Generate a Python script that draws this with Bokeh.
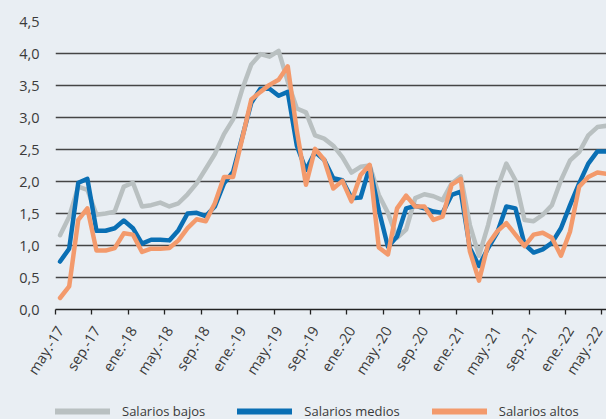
import math
from bokeh.plotting import figure
from bokeh.layouts import column
from bokeh.models import (Range1d, FixedTicker, CustomJSTickFormatter, Legend, LegendItem,
                          ColumnDataSource)
from bokeh.embed import file_html
from bokeh.resources import INLINE

# ---- data (monthly, may-17 .. may-22) ----
tick_labels = ["may.-17", "sep.-17", "ene.-18", "may.-18", "sep.-18", "ene.-19", "may.-19",
               "sep.-19", "ene.-20", "may.-20", "sep.-20", "ene.-21", "may.-21", "sep.-21",
               "ene.-22", "may.-22"]

salarios_bajos = [1.16, 1.45, 1.92, 1.87, 1.48, 1.50, 1.53, 1.92, 1.98, 1.61,
                  1.63, 1.67, 1.61, 1.66, 1.80, 1.97, 2.20, 2.43, 2.74, 2.97,
                  3.44, 3.83, 3.99, 3.95, 4.04, 3.56, 3.14, 3.08, 2.72, 2.67,
                  2.56, 2.38, 2.14, 2.23, 2.25, 1.79, 1.51, 1.12, 1.25, 1.74,
                  1.80, 1.77, 1.71, 1.97, 2.08, 1.32, 0.84, 1.32, 1.89, 2.28,
                  2.02, 1.40, 1.38, 1.48, 1.63, 2.02, 2.33, 2.46, 2.72, 2.85, 2.87]

salarios_medios = [0.75, 0.95, 1.98, 2.04, 1.23, 1.23, 1.27, 1.39, 1.27, 1.03,
                   1.09, 1.09, 1.08, 1.24, 1.50, 1.51, 1.46, 1.61, 1.97, 2.15,
                   2.69, 3.23, 3.45, 3.45, 3.34, 3.40, 2.56, 2.18, 2.46, 2.34,
                   2.05, 2.02, 1.74, 1.75, 2.23, 1.55, 0.98, 1.14, 1.58, 1.62,
                   1.58, 1.53, 1.51, 1.79, 1.84, 0.96, 0.68, 0.96, 1.20, 1.61,
                   1.58, 1.02, 0.89, 0.94, 1.04, 1.27, 1.63, 1.97, 2.28, 2.47, 2.47]

salarios_altos = [0.18, 0.36, 1.40, 1.58, 0.92, 0.92, 0.96, 1.19, 1.17, 0.90,
                  0.95, 0.95, 0.96, 1.08, 1.27, 1.41, 1.38, 1.66, 2.07, 2.07,
                  2.67, 3.28, 3.40, 3.51, 3.59, 3.80, 2.79, 1.95, 2.51, 2.34,
                  1.89, 2.01, 1.69, 2.10, 2.26, 0.97, 0.86, 1.58, 1.78, 1.61,
                  1.61, 1.40, 1.45, 1.95, 2.04, 0.91, 0.45, 1.02, 1.22, 1.35,
                  1.17, 0.99, 1.17, 1.20, 1.12, 0.84, 1.22, 1.92, 2.07, 2.14, 2.12]

series_names = ["Salarios bajos", "Salarios medios", "Salarios altos"]
series_colors = ["#b9c0c1", "#0a6fb4", "#f39a6c"]

n = len(salarios_bajos)
x = [i + 0.5 for i in range(n)]

BG = "#e9eef3"
TXT = "#3a3a3a"
FONT = "Open Sans"

p = figure(width=606, height=386, output_backend="svg", toolbar_location=None,
           x_range=Range1d(0, 60.5), y_range=Range1d(0, 4.5),
           min_border_left=55, min_border_right=0, min_border_top=21, min_border_bottom=74)
p.background_fill_color = BG
p.border_fill_color = BG
p.outline_line_color = None

src = ColumnDataSource(dict(x=x, b=salarios_bajos, m=salarios_medios, a=salarios_altos))
for col, c in zip(["b", "m", "a"], series_colors):
    p.line("x", col, source=src, line_color=c, line_width=4.5,
           line_join="round", line_cap="round")

# x axis: labels at category centres, tick marks at category boundaries (every 4 months)
label_pos = [i * 4 + 0.5 for i in range(len(tick_labels))]
xa = p.xaxis[0]
xa.ticker = FixedTicker(ticks=label_pos, minor_ticks=[i * 4 for i in range(len(tick_labels))])
xa.major_label_overrides = {pos: lab for pos, lab in zip(label_pos, tick_labels)}
xa.major_tick_line_color = None
xa.minor_tick_line_color = "#222222"
xa.minor_tick_line_width = 1.3
xa.minor_tick_out = 5
xa.minor_tick_in = 0
xa.axis_line_color = "#222222"
xa.axis_line_width = 1.5
xa.major_label_orientation = math.radians(58)
xa.major_label_standoff = 12
xa.major_label_text_font = FONT
xa.major_label_text_font_size = "14.5px"
xa.major_label_text_color = TXT

ya = p.yaxis[0]
ya.ticker = FixedTicker(ticks=[i * 0.5 for i in range(10)])
ya.formatter = CustomJSTickFormatter(code="return tick.toFixed(1).replace('.', ',');")
ya.axis_line_color = None
ya.major_tick_line_color = None
ya.minor_tick_line_color = None
ya.major_label_standoff = 10
ya.major_label_text_font = FONT
ya.major_label_text_font_size = "14.5px"
ya.major_label_text_color = TXT

p.xgrid.grid_line_color = None
p.ygrid.grid_line_color = "#454545"
p.ygrid.grid_line_width = 1.4

# legend strip below the chart (series drawn out of view; only the legend shows)
lg = figure(width=606, height=33, output_backend="svg", toolbar_location=None,
            x_range=Range1d(0, 60.5), y_range=Range1d(100, 101),
            x_axis_type=None, y_axis_type=None,
            min_border_left=55, min_border_right=0, min_border_top=0, min_border_bottom=0)
lg.background_fill_color = None
lg.border_fill_color = None
lg.outline_line_color = None
lg.xgrid.grid_line_color = None
lg.ygrid.grid_line_color = None
items = []
for nm, col, c in zip(series_names, ["b", "m", "a"], series_colors):
    r = lg.line("x", col, source=src, line_color=c, line_width=6, line_cap="round")
    items.append(LegendItem(label=nm, renderers=[r]))

legend = Legend(items=items, orientation="horizontal", location=(0, -1),
                glyph_width=55, glyph_height=12, label_standoff=12, spacing=32,
                label_text_font=FONT, label_text_font_size="13px", label_text_color=TXT,
                border_line_color=None, background_fill_alpha=0, padding=0, margin=0)
lg.add_layout(legend, "center")

layout = column(p, lg, spacing=0, styles={"background-color": BG})
open("out.html", "w").write(file_html(layout, INLINE))
